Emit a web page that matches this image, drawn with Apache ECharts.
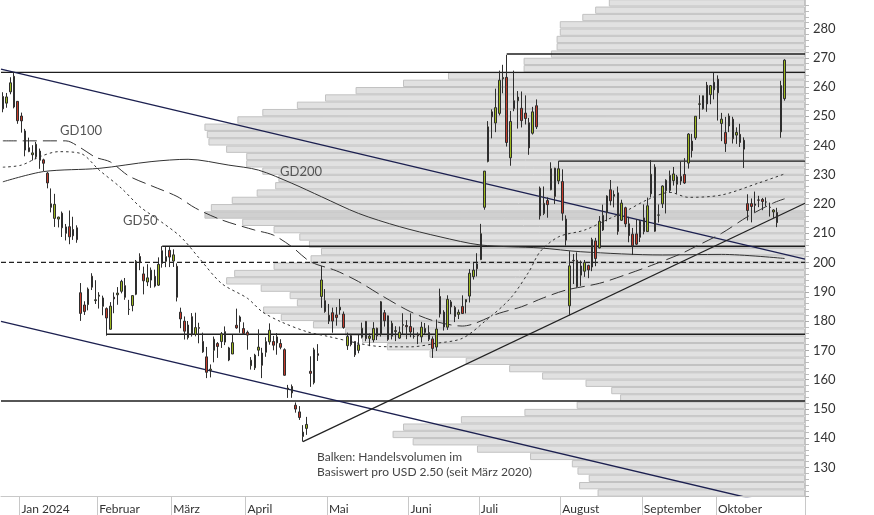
<!DOCTYPE html>
<html><head><meta charset="utf-8">
<script src="https://cdn.jsdelivr.net/npm/echarts/dist/echarts.min.js"></script>
<style>html,body{margin:0;padding:0;background:#fff}#c{width:874px;height:515px}</style>
</head><body><div id="c"></div>
<script>
// ---- price data: [date, open, close, low, high] ----
const dec2023 = [
["2023-12-22",256.76,252.54,251.37,258.22],["2023-12-26",254.49,256.61,252.91,257.97],["2023-12-27",258.35,261.44,257.52,263.34],
["2023-12-28",263.66,253.18,252.71,265.13],["2023-12-29",255.10,248.48,247.43,255.19]];
const jan2024 = [
["2024-01-02",250.08,248.42,244.41,251.25],["2024-01-03",244.98,238.45,236.32,245.68],["2024-01-04",239.25,237.93,237.73,242.70],
["2024-01-05",236.86,237.49,234.90,240.12],["2024-01-08",236.14,240.45,235.30,241.25],["2024-01-09",238.11,234.96,232.04,238.96],
["2024-01-10",235.10,233.94,231.29,235.50],["2024-01-11",230.57,227.22,225.37,230.93],["2024-01-12",220.08,218.89,217.15,225.34],
["2024-01-16",215.10,219.91,212.18,223.49],["2024-01-17",214.86,215.55,212.01,215.67],["2024-01-18",216.88,211.88,208.74,217.45],
["2024-01-19",209.99,212.19,207.56,213.19],["2024-01-22",212.26,208.80,206.27,217.80],["2024-01-23",211.30,209.14,207.75,215.65],
["2024-01-24",211.88,207.83,206.77,212.73],["2024-01-25",189.70,182.63,180.06,193.00],["2024-01-26",185.50,183.25,182.10,186.78],
["2024-01-29",185.63,190.93,183.67,191.48],["2024-01-30",195.33,191.59,190.61,196.36],["2024-01-31",187.00,187.29,185.85,193.97]];
const feb2024 = [
["2024-02-01",188.50,188.86,184.28,189.88],["2024-02-02",185.04,187.91,182.00,188.69],["2024-02-05",184.26,181.06,175.01,184.68],
["2024-02-06",177.21,185.10,177.11,186.49],["2024-02-07",188.18,187.58,182.68,189.79],["2024-02-08",189.00,189.56,185.58,191.62],
["2024-02-09",190.18,193.57,189.48,194.12],["2024-02-12",192.11,188.13,187.28,194.73],["2024-02-13",183.99,184.02,182.11,187.26],
["2024-02-14",185.30,188.71,183.35,188.89],["2024-02-15",189.16,200.45,188.86,200.88],["2024-02-16",202.06,199.95,197.40,203.17],
["2024-02-20",196.13,193.76,189.13,198.60],["2024-02-21",193.36,194.77,191.95,199.44],["2024-02-22",194.00,197.41,191.36,198.32],
["2024-02-23",195.31,191.97,191.50,197.57],["2024-02-26",192.29,199.40,192.00,201.78],["2024-02-27",204.04,199.73,198.26,205.60],
["2024-02-28",200.42,202.04,198.44,205.30],["2024-02-29",204.18,201.88,198.45,205.28]];
const mar2024 = [
["2024-03-01",200.52,202.64,198.50,204.52],["2024-03-04",198.73,188.14,186.72,199.75],["2024-03-05",183.05,180.74,177.57,184.59],
["2024-03-06",179.99,176.54,173.70,181.58],["2024-03-07",174.35,178.65,173.70,180.04],["2024-03-08",181.50,175.34,174.70,182.73],
["2024-03-11",175.45,177.77,174.80,182.87],["2024-03-12",177.77,177.54,172.41,179.43],["2024-03-13",173.05,169.48,169.15,176.05],
["2024-03-14",167.77,162.50,160.51,171.17],["2024-03-15",163.16,163.57,160.76,165.18],["2024-03-18",170.02,173.80,165.90,174.72],
["2024-03-19",172.36,171.32,167.42,172.82],["2024-03-20",173.00,175.66,170.82,176.25],["2024-03-21",176.39,172.82,171.80,178.18],
["2024-03-22",166.69,170.83,166.30,171.20],["2024-03-25",168.76,172.63,168.73,175.24],["2024-03-26",178.58,177.67,177.38,184.25],
["2024-03-27",181.41,179.83,176.00,181.91],["2024-03-28",177.45,175.79,175.30,179.57]];
const apr2024 = [
["2024-04-01",176.17,175.22,170.21,176.75],["2024-04-02",164.75,166.63,163.43,167.69],["2024-04-03",164.02,168.38,163.28,168.82],
["2024-04-04",170.07,171.11,168.01,177.19],["2024-04-05",169.08,164.90,160.51,170.86],["2024-04-08",169.34,172.98,167.79,174.50],
["2024-04-09",172.91,176.88,171.92,179.22],["2024-04-10",173.04,171.76,170.01,174.93],["2024-04-11",172.55,174.60,168.51,175.88],
["2024-04-12",172.34,171.05,170.36,173.81],["2024-04-15",170.24,161.48,161.38,170.69],["2024-04-16",156.74,157.11,153.75,158.19],
["2024-04-17",157.64,155.45,153.78,158.33],["2024-04-18",151.25,149.93,148.70,152.20],["2024-04-19",148.97,147.05,146.22,150.94],
["2024-04-22",140.56,142.05,138.80,144.44],["2024-04-23",143.33,144.68,141.11,147.26],["2024-04-24",162.84,162.13,157.51,167.97],
["2024-04-25",158.96,170.18,158.36,170.88],["2024-04-26",168.85,168.29,166.37,172.12],["2024-04-29",188.42,194.05,184.54,198.87],
["2024-04-30",186.98,183.28,182.84,190.95]];
const may2024 = [
["2024-05-01",182.00,179.99,179.01,185.86],["2024-05-02",182.86,180.01,176.02,184.60],["2024-05-03",182.10,181.19,178.42,184.78],
["2024-05-06",183.80,184.76,182.20,187.56],["2024-05-07",182.40,177.81,177.40,183.26],["2024-05-08",171.59,174.72,170.15,176.06],
["2024-05-09",175.01,171.97,171.37,175.62],["2024-05-10",173.05,168.47,167.75,173.06],["2024-05-13",170.00,171.89,169.00,175.40],
["2024-05-14",174.50,177.55,174.07,179.49],["2024-05-15",179.90,173.99,173.11,180.00],["2024-05-16",174.10,174.84,171.43,175.79],
["2024-05-17",173.55,177.46,172.75,179.63],["2024-05-20",177.56,174.95,173.52,177.75],["2024-05-21",175.51,186.60,174.71,186.88],
["2024-05-22",182.85,180.11,178.12,183.80],["2024-05-23",181.80,173.74,173.26,181.90],["2024-05-24",174.84,179.24,173.73,180.08],
["2024-05-28",176.40,176.75,173.16,178.25],["2024-05-29",174.19,176.19,173.93,178.15],["2024-05-30",178.58,178.79,175.38,182.67],
["2024-05-31",178.50,178.08,173.82,180.32]];
const jun2024 = [
["2024-06-03",178.13,176.29,174.49,182.64],["2024-06-04",174.78,174.77,174.00,177.76],["2024-06-05",175.35,175.00,172.13,176.15],
["2024-06-06",174.60,177.94,172.73,179.73],["2024-06-07",176.13,177.48,175.58,179.35],["2024-06-10",176.06,173.79,173.17,178.57],
["2024-06-11",173.92,170.66,167.41,174.75],["2024-06-12",171.12,177.29,169.80,180.55],["2024-06-13",188.39,182.47,181.23,191.08],
["2024-06-14",183.08,178.01,176.76,183.72],["2024-06-17",177.92,187.44,177.00,188.81],["2024-06-18",186.56,184.86,182.37,187.20],
["2024-06-20",184.68,181.57,179.66,185.21],["2024-06-21",182.30,183.01,180.69,183.95],["2024-06-24",184.97,182.58,182.55,188.80],
["2024-06-25",186.54,187.35,182.62,187.39],["2024-06-26",188.54,196.37,186.36,197.76],["2024-06-27",195.17,197.42,194.20,199.84],
["2024-06-28",199.55,197.88,195.26,203.20]];
const jul2024 = [
["2024-07-01",201.02,209.86,200.85,213.23],["2024-07-02",218.89,231.26,218.06,231.30],["2024-07-03",234.56,246.39,234.25,248.35],
["2024-07-05",249.81,251.52,242.46,252.37],["2024-07-08",247.71,252.94,244.57,259.44],["2024-07-09",251.00,262.33,250.30,265.61],
["2024-07-10",262.80,263.26,257.86,267.59],["2024-07-11",263.30,241.03,239.65,271.00],["2024-07-12",235.80,248.23,233.09,251.84],
["2024-07-15",255.31,252.64,251.73,265.60],["2024-07-16",255.31,256.56,245.80,258.62],["2024-07-17",252.73,248.50,246.18,258.47],
["2024-07-18",251.09,249.23,247.20,257.14],["2024-07-19",247.79,239.20,236.83,249.44],["2024-07-22",244.21,251.51,243.75,253.21],
["2024-07-23",253.60,246.38,245.63,255.76],["2024-07-24",225.42,215.99,214.71,225.99],["2024-07-25",216.80,220.25,216.23,226.00],
["2024-07-26",221.19,219.80,215.33,222.28],["2024-07-29",224.90,232.10,224.70,234.27],["2024-07-30",232.25,222.62,220.00,232.41],
["2024-07-31",227.90,232.07,226.79,234.68]];
const aug2024 = [
["2024-08-01",227.69,216.86,214.33,231.87],["2024-08-02",214.88,207.67,205.78,216.13],["2024-08-05",185.22,198.88,182.00,203.88],
["2024-08-06",200.75,200.64,192.67,202.90],["2024-08-07",200.77,191.76,191.48,203.49],["2024-08-08",195.70,198.84,192.04,200.70],
["2024-08-09",197.05,200.00,195.11,200.88],["2024-08-12",199.02,197.49,194.67,199.26],["2024-08-13",198.47,207.83,197.06,208.49],
["2024-08-14",207.39,201.38,198.75,208.44],["2024-08-15",205.02,214.14,204.82,215.88],["2024-08-16",211.15,216.12,210.80,219.80],
["2024-08-19",217.07,222.72,214.09,222.98],["2024-08-20",224.88,221.10,219.56,228.22],["2024-08-21",222.67,223.27,218.86,224.66],
["2024-08-22",223.82,210.66,209.51,225.99],["2024-08-23",214.46,220.32,214.21,221.48],["2024-08-26",218.75,213.21,212.11,219.09],
["2024-08-27",213.25,209.21,206.94,215.66],["2024-08-28",209.72,205.75,202.59,211.84],["2024-08-29",209.80,206.28,205.97,214.89],
["2024-08-30",208.63,214.11,207.03,214.57]];
const sep2024 = [
["2024-09-03",215.26,210.60,209.64,219.90],["2024-09-04",210.59,219.41,210.57,222.22],["2024-09-05",223.49,230.17,222.25,235.00],
["2024-09-06",232.60,210.73,210.51,233.60],["2024-09-09",216.20,216.27,213.67,219.87],["2024-09-10",220.07,226.17,218.64,226.40],
["2024-09-11",224.55,228.13,216.80,228.47],["2024-09-12",224.66,229.81,223.83,231.45],["2024-09-13",228.00,230.29,226.32,232.67],
["2024-09-16",229.30,226.78,223.53,229.96],["2024-09-17",229.45,227.87,226.55,234.57],["2024-09-18",230.09,227.20,226.88,235.68],
["2024-09-19",234.00,243.92,232.13,244.24],["2024-09-20",241.52,238.25,235.92,243.99],["2024-09-23",242.61,250.00,241.92,250.00],
["2024-09-24",254.08,254.27,249.05,257.19],["2024-09-25",252.54,257.02,252.28,257.05],["2024-09-26",260.60,254.22,251.53,261.75],
["2024-09-27",257.38,260.46,254.12,260.70],["2024-09-30",259.04,261.63,255.77,264.86]];
const oct2024 = [
["2024-10-01",262.67,258.02,248.53,263.98],["2024-10-02",247.55,249.02,241.50,251.16],["2024-10-03",244.48,240.66,237.81,249.79],
["2024-10-04",246.69,250.08,244.58,250.96],["2024-10-07",249.00,242.30,240.70,249.83],["2024-10-08",243.56,244.50,240.56,246.21],
["2024-10-09",243.82,241.05,239.51,247.43],["2024-10-10",241.81,238.77,232.34,242.79],["2024-10-11",220.13,217.80,214.38,223.34],
["2024-10-14",220.13,219.16,213.74,221.91],["2024-10-15",220.01,219.57,217.12,224.26],["2024-10-16",221.40,221.33,218.93,222.82],
["2024-10-17",221.59,220.89,217.90,222.08],["2024-10-18",220.71,220.70,219.23,222.28],["2024-10-21",218.90,218.85,215.73,220.48],
["2024-10-22",217.31,217.97,215.26,218.22],["2024-10-23",217.13,213.65,212.11,218.72],["2024-10-24",244.68,260.48,242.65,262.12],
["2024-10-25",256.01,269.19,255.32,269.49]];
// empty trading days after the last candle (right margin of the time axis)
const futureDays = ["2024-10-28","2024-10-29","2024-10-30","2024-10-31","2024-11-01"];

// ---- month labels on the time axis ----
const monthLabels = [["2024-01-02","Jan 2024"],["2024-02-01","Februar"],["2024-03-01","März"],["2024-04-01","April"],
["2024-05-01","Mai"],["2024-06-03","Juni"],["2024-07-01","Juli"],["2024-08-01","August"],["2024-09-03","September"],["2024-10-01","Oktober"]];

// ---- moving averages: [date, value] ----
const gd50 = [["2023-12-22",232.6],["2024-01-02",233.3],["2024-01-09",236.2],["2024-01-17",237.9],["2024-01-25",237.3],["2024-02-01",231.6],
["2024-02-09",225.4],["2024-02-16",219.1],["2024-02-26",214.6],["2024-03-05",208.8],["2024-03-12",201.5],["2024-03-20",192.9],
["2024-04-01",187.8],["2024-04-05",183.2],["2024-04-12",179.8],["2024-04-23",176.4],["2024-05-01",174.7],["2024-05-13",172.4],
["2024-05-21",171.3],["2024-06-03",171.2],["2024-06-12",172.4],["2024-06-24",174.1],["2024-07-02",179.8],["2024-07-12",187.8],
["2024-07-19",196.9],["2024-07-24",203.7],["2024-07-31",208.8],["2024-08-09",211.1],["2024-08-19",214.6],["2024-08-26",217.5],
["2024-09-04",221.5],["2024-09-12",224.0],["2024-09-19",222.3],["2024-10-02",223.1],["2024-10-16",227.2],["2024-10-25",230.3]];
const gd100 = [["2023-12-22",241.6],["2024-01-19",241.6],["2024-01-25",239.2],["2024-01-31",236.0],["2024-02-06",234.4],["2024-02-13",229.6],
["2024-02-22",226.3],["2024-03-04",222.6],["2024-03-11",218.6],["2024-03-20",214.6],["2024-04-03",211.1],["2024-04-10",209.4],
["2024-04-17",205.4],["2024-04-24",200.3],["2024-05-03",197.2],["2024-05-13",193.5],["2024-05-21",188.9],["2024-06-03",183.2],
["2024-06-12",179.8],["2024-06-24",178.3],["2024-07-09",182.7],["2024-07-17",184.9],["2024-07-25",188.0],["2024-08-02",190.6],
["2024-08-15",192.9],["2024-08-26",195.8],["2024-09-05",199.0],["2024-09-17",203.0],["2024-09-23",205.5],["2024-10-02",210.0],
["2024-10-11",215.7],["2024-10-22",220.4],["2024-10-25",221.8]];
const gd200 = [["2023-12-22",227.6],["2024-01-10",231.1],["2024-02-01",232.2],["2024-02-22",234.5],["2024-03-07",235.3],["2024-03-22",233.3],
["2024-04-04",231.6],["2024-04-17",227.1],["2024-04-29",222.5],["2024-05-13",216.8],["2024-05-29",212.3],["2024-06-13",208.8],
["2024-07-01",206.0],["2024-07-24",205.0],["2024-08-08",203.7],["2024-09-10",202.6],["2024-10-02",202.8],["2024-10-25",201.4]];

// ---- horizontal levels: [from, price] ("start" = left edge) ----
const levels = [["start",265.0],["2024-07-11",271.3],["2024-07-31",234.68],["2024-02-27",205.6],["2024-02-05",175.5],["start",152.7]];
const dashedLevel = [["start",200.1]];
// ---- trend lines: two points each ("start"/"end" = chart edges) ----
const trendUpper = [["start",266.1],["end",201.2]];
const trendLower = [["start",179.9],["end",115.0]];
const trendRise  = [["2024-04-22",138.8],["end",220.3]];

// ---- volume profile: bins of USD 2.50 starting at 120, relative volume ----
const profileStart = 120, profileStep = 2.5;
const profileVol = [25.8,28.1,26.9,28.3,29.0,34.2,40.8,48.8,51.3,50.0,42.8,34.9,28.4,23.0,24.1,27.3,32.7,36.8,42.2,46.7,
52.0,55.1,57.2,61.2,65.2,67.4,63.2,64.1,67.7,72.0,71.0,66.1,61.5,60.2,61.7,62.9,66.1,70.0,74.7,73.9,
71.3,68.2,65.9,65.5,67.5,69.5,69.5,72.0,74.2,74.4,74.7,70.6,67.5,63.2,59.7,55.9,50.0,44.4,35.0,35.0,
31.6,30.9,30.9,30.5,30.5,27.7,26.1,24.4];
const highlightBin = 215;

// ---- labels ----
const maLabels = [["GD100",60,124],["GD200",280,165],["GD50",123,214]];
const noteLines = ["Balken: Handelsvolumen im","Basiswert pro USD 2.50 (seit März 2020)"];

// ================= build =================
const candlesRaw = [].concat(dec2023,jan2024,feb2024,mar2024,apr2024,may2024,jun2024,jul2024,aug2024,sep2024,oct2024);
const cats = candlesRaw.map(r=>r[0]).concat(futureDays);
const idxOf = {}; cats.forEach((d,i)=>idxOf[d]=i);
const L = -0.5, R = cats.length - 0.5;
const xi = d => d==="start" ? L : (d==="end" ? R : idxOf[d]);
const pts = arr => arr.map(p=>[xi(p[0]),p[1]]);
const monthMap = {}; monthLabels.forEach(m=>monthMap[m[0]]=m[1]);

const bins = profileVol.map((v,i)=>String(profileStart+i*profileStep));
const yMin = 120, yMax = 290;
const gridTop = -0.76, gridH = 497.4;
const hidden = {show:false,axisLine:{show:false,onZero:false},axisTick:{show:false},axisLabel:{show:false},splitLine:{show:false},minorTick:{show:false}};

const lineBase = {type:'line',xAxisIndex:1,yAxisIndex:0,symbol:'none',silent:true,animation:false,z:3};
const series = [];
series.push({type:'bar',xAxisIndex:2,yAxisIndex:1,barCategoryGap:'0%',barGap:'0%',silent:true,animation:false,z:1,
  data: profileVol.map((v,i)=>({value:v,itemStyle:(profileStart+i*profileStep===highlightBin)?{color:'#d0d0d0'}:undefined})),
  itemStyle:{color:'#e1e1e1',borderColor:'#c2c2c2',borderWidth:1}});
levels.forEach(l=>series.push(Object.assign({},lineBase,{data:pts([[l[0],l[1]],["end",l[1]]]),lineStyle:{color:'#1e1e1e',width:1.4}})));
dashedLevel.forEach(l=>series.push(Object.assign({},lineBase,{data:pts([[l[0],l[1]],["end",l[1]]]),lineStyle:{color:'#222',width:1.2,type:[5,3]}})));
series.push(Object.assign({},lineBase,{data:pts(trendUpper),lineStyle:{color:'#1c2050',width:1.4}}));
series.push(Object.assign({},lineBase,{data:pts(trendLower),lineStyle:{color:'#1c2050',width:1.4}}));
series.push(Object.assign({},lineBase,{data:pts(trendRise),lineStyle:{color:'#222',width:1.2}}));
series.push(Object.assign({},lineBase,{data:pts(gd200),smooth:0.3,lineStyle:{color:'#333',width:1}}));
series.push(Object.assign({},lineBase,{data:pts(gd100),smooth:0.3,lineStyle:{color:'#333',width:1,type:[14,6]}}));
series.push(Object.assign({},lineBase,{data:pts(gd50),smooth:0.3,lineStyle:{color:'#333',width:1,type:[2.5,3]}}));
series.push({type:'candlestick',xAxisIndex:0,yAxisIndex:0,barWidth:2,animation:false,silent:true,z:4,
  data:candlesRaw.map(r=>[r[1],r[2],r[3],r[4]]),
  itemStyle:{color:'#9cb71d',color0:'#c63a2a',borderColor:'#2e2e2e',borderColor0:'#2e2e2e',borderWidth:1}});

const graphics = maLabels.map(m=>({type:'text',left:m[1],top:m[2],z:20,style:{text:m[0],font:'13px Lato',fill:'#555'}}));
noteLines.forEach((t,i)=>graphics.push({type:'text',left:317,top:451+i*15,z:20,style:{text:t,font:'12px Lato',fill:'#444'}}));

const chart = echarts.init(document.getElementById('c'),null,{renderer:'canvas'});
chart.setOption({
  animation:false,
  grid:[{left:1,right:69,top:gridTop,height:gridH,containLabel:false,outerBoundsMode:'none'},
        {left:1,right:69,top:gridTop,height:gridH,containLabel:false,outerBoundsMode:'none'}],
  xAxis:[
    {type:'category',gridIndex:0,data:cats,boundaryGap:true,z:10,
     axisLine:{onZero:false,lineStyle:{color:'#c8c8c8'}},
     axisTick:{show:true,length:20,interval:(i,v)=>!!monthMap[v],lineStyle:{color:'#c8c8c8'}},
     axisLabel:{interval:(i,v)=>!!monthMap[v],formatter:v=>monthMap[v]||'',align:'left',margin:6,color:'#333',fontFamily:'Lato',fontSize:12},
     splitLine:{show:false}},
    Object.assign({type:'value',gridIndex:0,min:L,max:R,position:'top'},hidden),
    Object.assign({type:'value',gridIndex:1,min:0,max:100,inverse:true,position:'bottom'},hidden)
  ],
  yAxis:[
    {type:'value',gridIndex:0,position:'right',min:yMin,max:yMax,interval:10,z:10,
     axisLine:{show:true,onZero:false,lineStyle:{color:'#c8c8c8'}},
     axisTick:{show:true,length:4,lineStyle:{color:'#aaa'}},
     minorTick:{show:true,splitNumber:5,length:4,lineStyle:{color:'#bbb'}},
     axisLabel:{showMinLabel:false,showMaxLabel:false,margin:8,color:'#333',fontFamily:'Lato',fontSize:13},
     splitLine:{show:false}},
    Object.assign({type:'category',gridIndex:1,data:bins,boundaryGap:true,position:'left'},hidden)
  ],
  series:series,
  graphic:graphics
});
</script></body></html>
